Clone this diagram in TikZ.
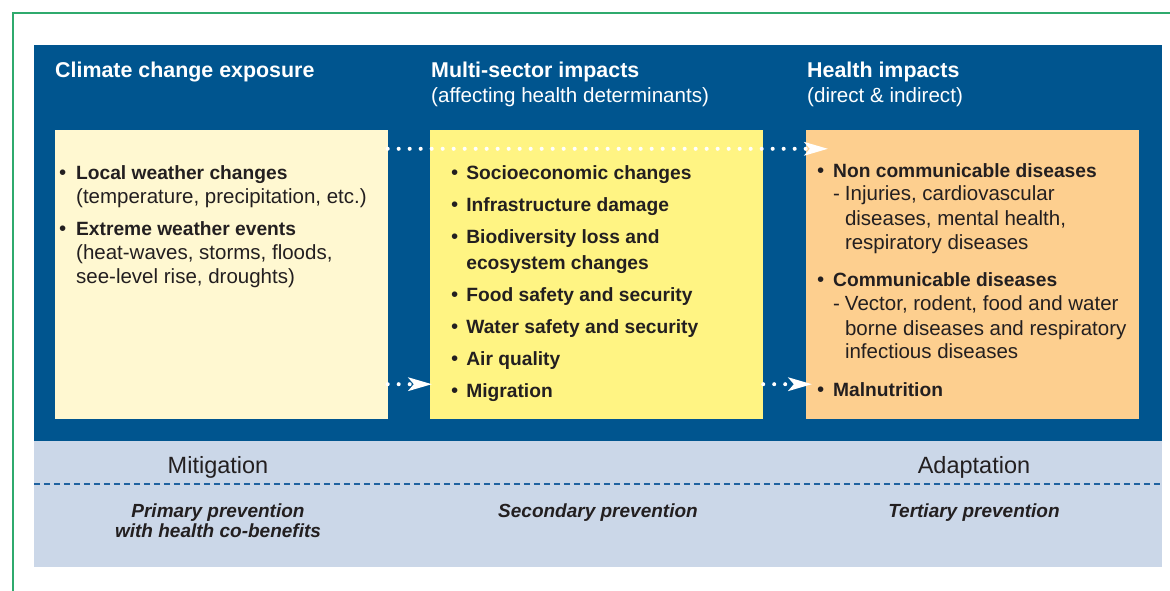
\documentclass[tikz,border=0pt]{standalone}
\usepackage{fontspec}
\setmainfont{Liberation Sans}
\usetikzlibrary{arrows.meta, positioning}

\definecolor{panelblue}{HTML}{00558F}
\definecolor{striplight}{HTML}{CBD7E8}
\definecolor{exposurefill}{HTML}{FFF8D1}
\definecolor{sectorfill}{HTML}{FFF483}
\definecolor{healthfill}{HTML}{FDCF8F}
\definecolor{framegreen}{HTML}{2FAA6D}
\definecolor{inkgray}{HTML}{231F20}
\definecolor{dashblue}{HTML}{1F62A0}

\newcommand{\listfont}{\fontsize{20.5}{24}\selectfont}
\newcommand{\itm}[1]{{\fontsize{19.2}{24}\selectfont\bfseries #1}}

\begin{document}
\begin{tikzpicture}[
    x=1pt, y=-1pt,
    panel/.style={fill=panelblue, inner sep=0pt, minimum width=1128pt, minimum height=396pt},
    strip/.style={fill=striplight, inner sep=0pt, minimum width=1128pt, minimum height=126pt},
    colbox/.style={inner sep=0pt, minimum width=333pt, minimum height=289pt},
    exposurebox/.style={colbox, fill=exposurefill},
    sectorbox/.style={colbox, fill=sectorfill},
    healthbox/.style={colbox, fill=healthfill},
    hdr/.style={text=white, inner sep=0pt, anchor=base west, font=\fontsize{21.4}{26}\selectfont\bfseries},
    subhdr/.style={text=white, inner sep=0pt, anchor=base west, font=\fontsize{20.6}{26}\selectfont},
    itemlist/.style={text=inkgray, inner sep=0pt, anchor=base west, font=\listfont},
    striplabel/.style={text=inkgray, inner sep=0pt, anchor=base, font=\fontsize{23.5}{28}\selectfont},
    preventlabel/.style={text=inkgray, inner sep=0pt, anchor=base, align=center, font=\fontsize{19}{20}\selectfont\bfseries\itshape},
    dotarrow/.style={white, line width=4pt, line cap=round, dash pattern=on 0pt off 11pt,
        -{Stealth[length=24pt, width=14pt, inset=6pt, line width=0pt]}},
    sepline/.style={dashblue, line width=1.4pt, dash pattern=on 6pt off 4pt},
    frameline/.style={framegreen, line width=1.6pt}
]
\useasboundingbox (0,0) rectangle (1170,591);

% === FRAME ===
\draw[frameline] (13,591) -- (13,13) -- (1170,13);

% === BACKGROUND PANELS ===
\node[panel] (panel) at (598,243) {};
\node[strip] (strip) at (598,504) {};

% === COLUMN HEADERS ===
\node[hdr] (hexposure) at (55,78) {Climate change exposure};
\node[hdr] (hsectors) at (431,78) {Multi-sector impacts};
\node[subhdr] (ssectors) at (431,103) {(affecting health determinants)};
\node[hdr] (hhealth) at (807,78) {Health impacts};
\node[subhdr] (shealth) at (807,103) {(direct \& indirect)};

% === COLUMN BOXES ===
\node[exposurebox] (exposure) at (221,274.5) {};
\node[sectorbox] (sectors) at (596.5,274.5) {};
\node[healthbox] (health) at (972.5,274.5) {};

% === BOX TEXTS ===
\node[itemlist] (lexposure) at (59,179.5) {%
\begin{tabular}[t]{@{}l@{\hspace{9.8pt}}l@{}}
\textbullet & \itm{Local weather changes}\\
 & (temperature, precipitation, etc.)\\[8pt]
\textbullet & \itm{Extreme weather events}\\
 & (heat-waves, storms, floods,\\
 & see-level rise, droughts)
\end{tabular}};

\node[itemlist] (lsectors) at (451,179) {%
\begin{tabular}[t]{@{}l@{\hspace{8pt}}l@{}}
\textbullet & \itm{Socioeconomic changes}\\[8pt]
\textbullet & \itm{Infrastructure damage}\\[8pt]
\textbullet & \itm{Biodiversity loss and}\\[2pt]
 & \itm{ecosystem changes}\\[8pt]
\textbullet & \itm{Food safety and security}\\[8pt]
\textbullet & \itm{Water safety and security}\\[8pt]
\textbullet & \itm{Air quality}\\[8pt]
\textbullet & \itm{Migration}
\end{tabular}};

\node[itemlist] (lhealth) at (817,177) {%
\begin{tabular}[t]{@{}l@{\hspace{8.8pt}}l@{\hspace{5pt}}l@{}}
\textbullet & \multicolumn{2}{@{}l@{}}{\itm{Non communicable diseases}}\\
 & - & Injuries, cardiovascular\\
 & & diseases, mental health,\\
 & & respiratory diseases\\[14pt]
\textbullet & \multicolumn{2}{@{}l@{}}{\itm{Communicable diseases}}\\
 & - & Vector, rodent, food and water\\
 & & borne diseases and respiratory\\
 & & infectious diseases\\[13pt]
\textbullet & \multicolumn{2}{@{}l@{}}{\itm{Malnutrition}}
\end{tabular}};

% === ARROWS ===
\draw[dotarrow] ([yshift=-19pt]exposure.north east) -- ([xshift=22pt,yshift=-19pt]health.north west);
\draw[dotarrow] ([yshift=35pt]exposure.south east) -- ([xshift=2pt,yshift=35pt]sectors.south west);
\draw[dotarrow] ([yshift=35pt]sectors.south east) -- ([xshift=6pt,yshift=35pt]health.south west);

% === PREVENTION STRIP ===
\node[striplabel] (mitigation) at (218,473) {Mitigation};
\node[striplabel] (adaptation) at (974,473) {Adaptation};
\draw[sepline] ([yshift=-43pt]strip.north west) -- ([yshift=-43pt]strip.north east);

\node[preventlabel] (primary) at (218,537) {Primary prevention\\with health co-benefits};
\node[preventlabel] (secondary) at (598,517) {Secondary prevention};
\node[preventlabel] (tertiary) at (974,517) {Tertiary prevention};

\end{tikzpicture}
\end{document}
